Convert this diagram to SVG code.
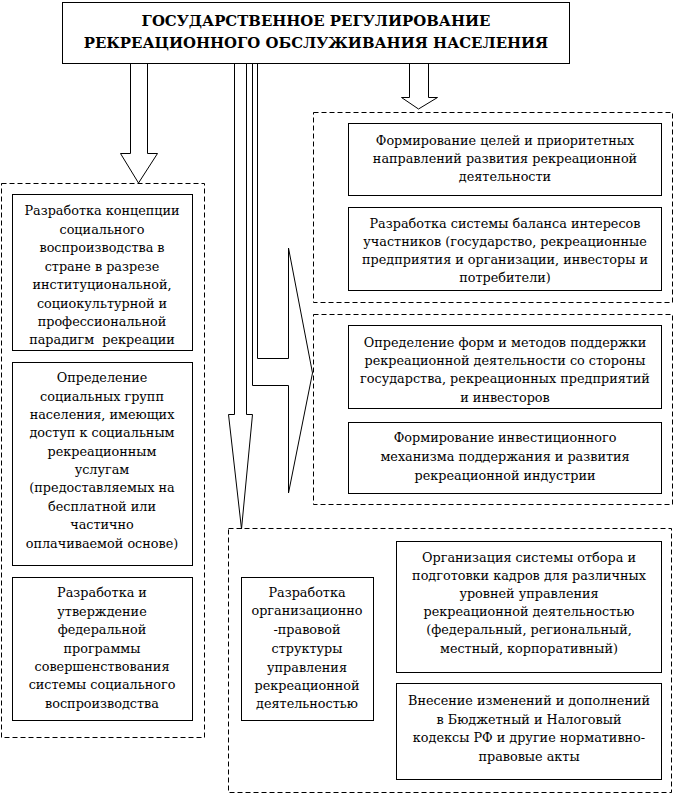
<svg xmlns="http://www.w3.org/2000/svg" width="674" height="794" viewBox="0 0 674 794" font-family="DejaVu Serif, serif">
<style>
.box{fill:#fff;stroke:#000;stroke-width:1}
.grp{fill:none;stroke:#000;stroke-width:1;stroke-dasharray:5,3}
.arr{fill:#fff;stroke:#000;stroke-width:1;stroke-linejoin:miter}
text{font-size:12.8px;fill:#000;text-anchor:middle}
.title{font-weight:bold;font-size:14.9px}
</style>
<rect width="674" height="794" fill="#fff"/>
<g id="connectors">
<polygon class="arr" points="130.5,63 147.5,63 147.5,153.5 157.5,153.5 138.5,183 120.5,153.5 130.5,153.5"/>
<polygon class="arr" points="409.5,63 428.5,63 428.5,97.5 437.5,97.5 418.5,109 401.5,97.5 409.5,97.5"/>
<polygon class="arr" points="234.5,63 246.5,63 246.5,414.5 252.5,414.5 241.5,529 228.5,414.5 234.5,414.5"/>
<polygon class="arr" points="257.5,63 257.5,358.5 288.5,358.5 288.5,248 312.5,373 288.5,493 288.5,385.5 252.5,385.5 252.5,63"/>
</g>
<g id="title">
<rect class="box" x="62.5" y="2.5" width="507" height="61"/>
<text class="title" x="316" y="26">ГОСУДАРСТВЕННОЕ РЕГУЛИРОВАНИЕ</text>
<text class="title" x="316" y="48">РЕКРЕАЦИОННОГО ОБСЛУЖИВАНИЯ НАСЕЛЕНИЯ</text>
</g>
<g id="group-left">
<rect class="grp" x="1.5" y="183.5" width="203" height="554"/>
</g>
<g id="node-l1">
<rect class="box" x="12.5" y="194.5" width="180" height="156"/>
<text x="102" y="215">Разработка концепции</text>
<text x="102" y="234">социального</text>
<text x="102" y="252">воспроизводства в</text>
<text x="102" y="271">стране в разрезе</text>
<text x="102" y="289">институциональной,</text>
<text x="102" y="308">социокультурной и</text>
<text x="102" y="326">профессиональной</text>
<text x="102" y="344" xml:space="preserve">парадигм  рекреации</text>
</g>
<g id="node-l2">
<rect class="box" x="12.5" y="362.5" width="180" height="203"/>
<text x="102" y="382">Определение</text>
<text x="102" y="401">социальных групп</text>
<text x="102" y="419">населения, имеющих</text>
<text x="102" y="437">доступ к социальным</text>
<text x="102" y="456">рекреационным</text>
<text x="102" y="474">услугам</text>
<text x="102" y="492">(предоставляемых на</text>
<text x="102" y="511">бесплатной или</text>
<text x="102" y="529">частично</text>
<text x="102" y="548">оплачиваемой основе)</text>
</g>
<g id="node-l3">
<rect class="box" x="12.5" y="577.5" width="180" height="143"/>
<text x="102" y="597">Разработка и</text>
<text x="102" y="616">утверждение</text>
<text x="102" y="634">федеральной</text>
<text x="102" y="653">программы</text>
<text x="102" y="671">совершенствования</text>
<text x="102" y="689">системы социального</text>
<text x="102" y="708">воспроизводства</text>
</g>
<g id="group-right-top">
<rect class="grp" x="313.5" y="112.5" width="359" height="190"/>
</g>
<g id="node-r1">
<rect class="box" x="348.5" y="123.5" width="313" height="72"/>
<text x="505" y="145">Формирование целей и приоритетных</text>
<text x="505" y="163">направлений развития рекреационной</text>
<text x="505" y="181">деятельности</text>
</g>
<g id="node-r2">
<rect class="box" x="348.5" y="207.5" width="313" height="83"/>
<text x="505" y="228">Разработка системы баланса интересов</text>
<text x="505" y="246">участников (государство, рекреационные</text>
<text x="505" y="264">предприятия и организации, инвесторы и</text>
<text x="505" y="282">потребители)</text>
</g>
<g id="group-right-mid">
<rect class="grp" x="313.5" y="314.5" width="359" height="190"/>
</g>
<g id="node-r3">
<rect class="box" x="348.5" y="325.5" width="313" height="83"/>
<text x="505" y="347">Определение форм и методов поддержки</text>
<text x="505" y="365">рекреационной деятельности со стороны</text>
<text x="505" y="383">государства, рекреационных предприятий</text>
<text x="505" y="402">и инвесторов</text>
</g>
<g id="node-r4">
<rect class="box" x="348.5" y="422.5" width="313" height="71"/>
<text x="505" y="442">Формирование инвестиционного</text>
<text x="505" y="461">механизма поддержания и развития</text>
<text x="505" y="480">рекреационной индустрии</text>
</g>
<g id="group-bottom">
<rect class="grp" x="228.5" y="528.5" width="443" height="264"/>
</g>
<g id="node-b1">
<rect class="box" x="241.5" y="577.5" width="132" height="143"/>
<text x="307" y="597">Разработка</text>
<text x="307" y="615">организационно</text>
<text x="307" y="634">-правовой</text>
<text x="307" y="653">структуры</text>
<text x="307" y="672">управления</text>
<text x="307" y="690">рекреационной</text>
<text x="307" y="708">деятельностью</text>
</g>
<g id="node-b2">
<rect class="box" x="396.5" y="541.5" width="265" height="131"/>
<text x="529" y="562">Организация системы отбора и</text>
<text x="529" y="580">подготовки кадров для различных</text>
<text x="529" y="598">уровней управления</text>
<text x="529" y="616">рекреационной деятельностью</text>
<text x="529" y="634">(федеральный, региональный,</text>
<text x="529" y="653">местный, корпоративный)</text>
</g>
<g id="node-b3">
<rect class="box" x="396.5" y="683.5" width="265" height="96"/>
<text x="529" y="705">Внесение изменений и дополнений</text>
<text x="529" y="724">в Бюджетный и Налоговый</text>
<text x="529" y="742">кодексы РФ и другие нормативно-</text>
<text x="529" y="761">правовые акты</text>
</g>
</svg>
